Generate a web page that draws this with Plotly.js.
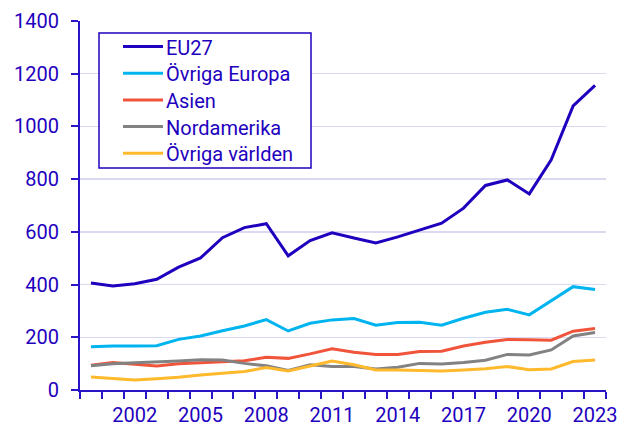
<!DOCTYPE html>
<html>
<head>
<meta charset="utf-8">
<script src="https://cdn.plot.ly/plotly-3.0.1.min.js"></script>
<style>html,body{margin:0;padding:0;background:#fff;}#chart{width:627px;height:426px;}</style>
</head>
<body>
<div id="chart"></div>
<script>
const years = [2000,2001,2002,2003,2004,2005,2006,2007,2008,2009,2010,2011,2012,2013,2014,2015,2016,2017,2018,2019,2020,2021,2022,2023];
const eu27 = [406,395,403,420,466,501,578,616,631,509,567,596,577,558,581,607,633,690,776,797,744,873,1078,1156];
const ovrigaEuropa = [164,167,167,168,192,205,225,243,267,224,253,266,271,246,256,257,246,272,295,306,285,339,392,381];
const asien = [94,104,98,91,100,104,109,111,124,120,137,156,143,135,135,146,147,167,181,192,191,189,223,233];
const nordamerika = [92,100,103,106,110,115,114,101,92,74,96,89,89,80,86,101,99,104,113,135,133,152,205,218];
const ovrigaVarlden = [49,43,38,43,48,57,63,70,85,72,91,110,96,76,76,73,72,76,81,89,77,80,108,114];
const seriesNames = ['EU27','Övriga Europa','Asien','Nordamerika','Övriga världen'];
const seriesColors = ['#1e00be','#00b4f0','#f0553c','#828282','#ffb92d'];
const seriesValues = [eu27, ovrigaEuropa, asien, nordamerika, ovrigaVarlden];
const xTickVals = [2002,2005,2008,2011,2014,2017,2020,2023];
const xTickText = ['2002','2005','2008','2011','2014','2017','2020','2023'];

const textColor = '#1e00be';
const axisColor = '#2a14c8';
const fontSize = 20;

const traces = seriesValues.map((vals, i) => ({
  type: 'scatter', mode: 'lines', name: seriesNames[i],
  x: years, y: vals,
  line: {color: seriesColors[i], width: 3},
  showlegend: false
}));

// Legend box drawn in paper coordinates (plot area: 80..606 x, 21..390 y)
const px = v => (v - 80) / 526;
const py = v => (390 - v) / 369;
const shapes = [{
  type: 'rect', xref: 'paper', yref: 'paper',
  x0: px(99), x1: px(311), y0: py(168), y1: py(33),
  line: {color: '#1e00be', width: 1.5}, fillcolor: '#ffffff', layer: 'above'
}];
const annotations = [];
seriesNames.forEach((name, i) => {
  const rowY = 46.5 + i * 26.7;
  shapes.push({
    type: 'line', xref: 'paper', yref: 'paper',
    x0: px(123), x1: px(163), y0: py(rowY), y1: py(rowY),
    line: {color: seriesColors[i], width: 3}, layer: 'above'
  });
  annotations.push({
    xref: 'paper', yref: 'paper', x: px(164), y: py(rowY + 1),
    xanchor: 'left', yanchor: 'middle', showarrow: false,
    text: name, font: {size: fontSize, color: textColor, family: 'Roboto, sans-serif'}
  });
});

const layout = {
  width: 627, height: 426,
  margin: {l: 80, r: 21, t: 21, b: 36},
  paper_bgcolor: '#fff', plot_bgcolor: '#fff',
  font: {family: 'Roboto, sans-serif', size: fontSize, color: textColor},
  showlegend: false,
  shapes: shapes,
  annotations: annotations,
  xaxis: {
    range: [1999.5, 2023.5],
    tickmode: 'array', tickvals: xTickVals, ticktext: xTickText,
    ticks: '', showgrid: false, zeroline: false,
    showline: true, linecolor: axisColor, linewidth: 2,
    minor: {ticks: 'outside', tickmode: 'linear', tick0: 1999.5, dtick: 1, ticklen: 7, tickwidth: 2, tickcolor: axisColor, showgrid: false},
    tickfont: {size: fontSize, color: textColor},
    ticklabelstandoff: 6,
    fixedrange: true
  },
  yaxis: {
    range: [0, 1400], dtick: 200, tick0: 0,
    ticks: 'outside', ticklen: 7, tickwidth: 2, tickcolor: axisColor,
    showline: true, linecolor: axisColor, linewidth: 2,
    showgrid: true, gridcolor: '#d9d9f2', gridwidth: 1.5,
    zeroline: false,
    tickfont: {size: fontSize, color: textColor},
    ticklabelstandoff: 8,
    fixedrange: true
  }
};

Plotly.newPlot('chart', traces, layout, {displayModeBar: false, staticPlot: true});
</script>
</body>
</html>
